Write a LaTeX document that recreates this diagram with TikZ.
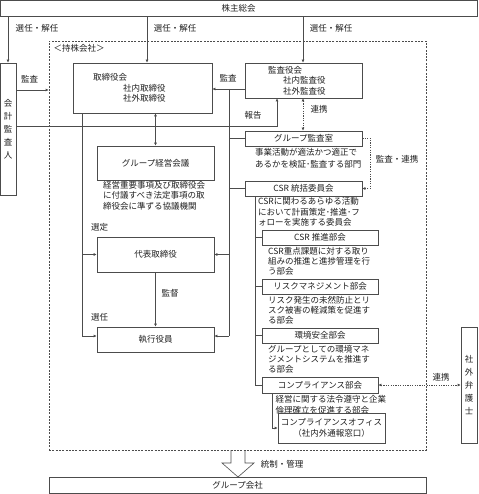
\documentclass[tikz,border=0pt]{standalone}
\usepackage{fontspec}
\setmainfont{Noto Sans CJK JP}
\usetikzlibrary{arrows.meta}
\definecolor{ln}{gray}{0.3}
\definecolor{tx}{gray}{0.12}

\begin{document}
\begin{tikzpicture}[x=1pt,y=-1pt,
  every node/.style={inner sep=0pt,text=tx,font=\fontsize{8.5}{10.5}\selectfont},
  box/.style={draw=ln,line width=0.6pt,minimum width=117pt,minimum height=15pt},
  sub/.style={box,minimum width=116pt},
  desc/.style={anchor=north west,align=left},
  line/.style={draw=ln,line width=0.6pt},
  arr/.style={line,-{Latex[length=3pt,width=3pt]}},
  arrs/.style={line,{Latex[length=3pt,width=3pt]}-{Latex[length=3pt,width=3pt]}},
  dots/.style={line,dash pattern=on 1.2pt off 1.2pt},
  frame/.style={draw=ln,line width=0.6pt,dash pattern=on 2pt off 1.3pt}]
\useasboundingbox (0,0) rectangle (478,494);

% top and outside
\node [box,minimum width=477pt,minimum height=16pt] (kabu) at (238.5,8) {株主総会};
\node [box,minimum width=16pt,minimum height=132pt,align=center,
  font=\fontsize{8.5}{13}\selectfont] (kaikei) at (8,129) {会\\計\\監\\査\\人};
\node [box,minimum width=16pt,minimum height=116pt,align=center,
  font=\fontsize{8.5}{12.8}\selectfont] (bengoshi) at (469,385) {社\\外\\弁\\護\\士};
\node [frame,minimum width=377pt,minimum height=409pt] (hold) at (237.5,245.5) {};
\node (holdlbl) at (79,48) {＜持株会社＞};
\node [box,minimum width=377pt,minimum height=16pt] (group) at (237.5,485) {グループ会社};

% left column
\node [box,minimum width=139pt,minimum height=50pt,align=left,text width=99pt,inner xsep=20pt]
  (bod) at (142.5,88) {取締役会\\\hspace*{30pt}社内取締役\\\hspace*{30pt}社外取締役};
\node [box,minimum height=34pt] (keiei) at (155.5,163) {グループ経営会議};
\node [desc] (keieid) at (103,181) {経営重要事項及び取締役会\\に付議すべき法定事項の取\\締役会に準ずる協議機関};
\node [box,minimum height=35pt] (daihyo) at (155.5,254.5) {代表取締役};
\node [box,minimum height=25pt] (shikko) at (155.5,339.5) {執行役員};

% right column
\node [box,minimum height=35pt,align=left,text width=71pt,inner xsep=23pt]
  (kansayaku) at (303.5,80.5) {監査役会\\\hspace*{15pt}社内監査役\\\hspace*{15pt}社外監査役};
\node [box] (kansashitsu) at (303.5,138.5) {グループ監査室};
\node [desc,font=\fontsize{8.5}{12}\selectfont] (kansashitsud) at (255,148.5) {事業活動が適法かつ適正で\\あるかを検証･監査する部門};
\node [box] (toukatsu) at (303.5,188.5) {CSR 統括委員会};
\node [desc] (toukatsud) at (258,197.5) {CSRに関わるあらゆる活動\\において計画策定･推進･フ\\ォローを実施する委員会};
\node [sub] (suishin) at (320,237.5) {CSR 推進部会};
\node [desc,font=\fontsize{8.5}{10}\selectfont] (suishind) at (268,247.5) {CSR重点課題に対する取り\\組みの推進と進捗管理を行\\う部会};
\node [sub] (risk) at (320,286.5) {リスクマネジメント部会};
\node [desc,font=\fontsize{8.5}{10}\selectfont] (riskd) at (268,296.5) {リスク発生の未然防止とリ\\スク被害の軽減策を促進す\\る部会};
\node [sub] (kankyo) at (320,335.5) {環境安全部会};
\node [desc,font=\fontsize{8.5}{10}\selectfont] (kankyod) at (268,345.5) {グループとしての環境マネ\\ジメントシステムを推進す\\る部会};
\node [sub,minimum height=16pt] (comp) at (320,385) {コンプライアンス部会};
\node [desc] (compd) at (275.5,395.5) {経営に関する法令遵守と企業\\倫理確立を促進する部会};
\node [box,minimum width=107pt,minimum height=30pt,align=center] (office) at (331.5,428) {コンプライアンスオフィス\\（社内外通報窓口）};

% labels
\node at (37,28) {選任・解任};
\node at (175,28) {選任・解任};
\node at (331,28) {選任・解任};
\node at (29.5,79) {監査};
\node at (228,78) {監査};
\node at (253,115) {報告};
\node at (319,109) {連携};
\node at (397,159) {監査・連携};
\node at (99.5,227) {選定};
\node at (170,293) {監督};
\node at (99.5,317) {選任};
\node at (441,377) {連携};
\node at (282,464) {統制・管理};

% connectors
\draw [arr] (kabu.south -| kaikei.north) -- (kaikei.north);
\draw [arr] (kabu.south -| 147,0) -- (bod.north -| 147,0);
\draw [arr] (kabu.south -| 303,0) -- (kansayaku.north -| 303,0);
\draw [arr] (kaikei.east |- 0,90) -- (hold.west |- 0,90);
\draw [arr] (kansayaku.west |- 0,89) -- (bod.east |- 0,89);
\draw [line] (229,89) -- (229,336);
\draw [line] (229,0 |- kansashitsu.west) -- (kansashitsu.west);
\draw [line] (229,0 |- toukatsu.west) -- (toukatsu.west);
\draw [arr] (229,0 |- daihyo.east) -- (daihyo.east);
\draw [arr] (229,336) -- (shikko.east |- 0,336);
\draw [arr] (kaikei.east |- 0,126) -| (kansayaku.south -| 277,0);
\draw [arrs] (bod.south -| keiei.north) -- (keiei.north);
\draw [arr] (bod.south -| 82,0) |- (daihyo.west);
\draw [arr] (bod.south -| 82,0) |- (shikko.west |- 0,336);
\draw [arr] (daihyo) -- (shikko);
\draw [dots,{Latex[length=3pt,width=3pt]}-{Latex[length=3pt,width=3pt]}] (kansayaku.south -| 303,0) -- (kansashitsu.north -| 303,0);
\draw [dots,-{Latex[length=3pt,width=3pt]}] (kansashitsu.east) -- ++(8,0) |- (toukatsu.east);
\draw [line] (toukatsu.south -| 255,0) |- (comp.west);
\draw [line] (255,0 |- suishin.west) -- (suishin.west);
\draw [line] (255,0 |- risk.west) -- (risk.west);
\draw [line] (255,0 |- kankyo.west) -- (kankyo.west);
\draw [arr] (comp.south -| 272,0) |- (office.west);
\draw [dots,{Latex[length=3pt,width=3pt]}-{Latex[length=3pt,width=3pt]}] (comp.east) -- (bengoshi.west |- comp.east);

% hollow arrow to group companies
\draw [line] (231,450) -- (231,463) -- (222,463) -- (238,477) -- (254,463) -- (245,463) -- (245,450);
\end{tikzpicture}
\end{document}
